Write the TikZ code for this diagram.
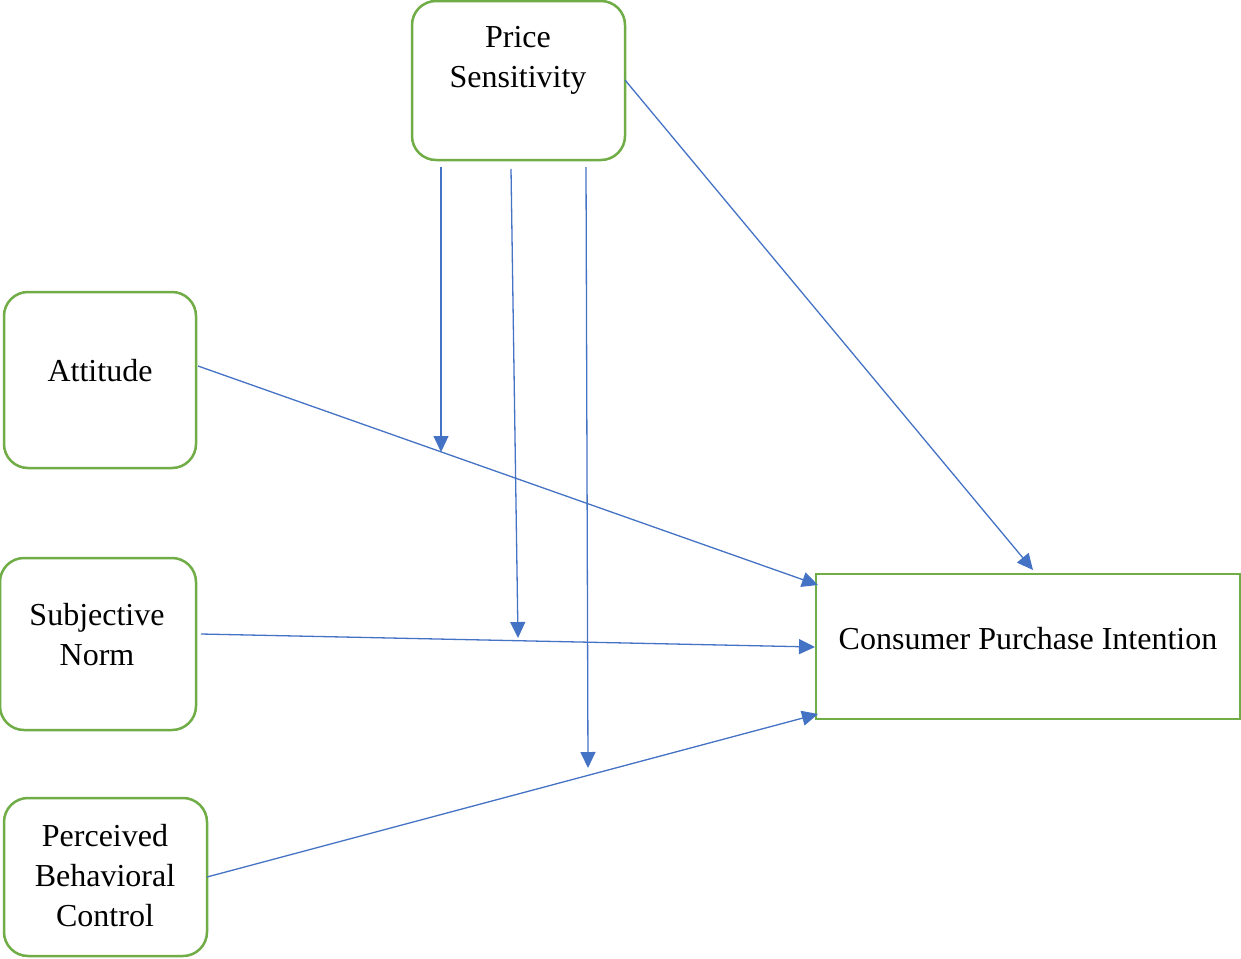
\documentclass[tikz,border=0pt]{standalone}
\usepackage{fontspec}
\setmainfont{Liberation Serif}
\usetikzlibrary{arrows.meta}
\definecolor{bordergreen}{HTML}{70AD47}
\definecolor{arrowblue}{HTML}{4472C4}
\begin{document}
\begin{tikzpicture}[x=0.5pt,y=-0.5pt,
  rbox/.style={draw=bordergreen,line width=1.25pt,rounded corners=12pt,fill=white,inner sep=0pt},
  sbox/.style={draw=bordergreen,line width=1.25pt,fill=white,inner sep=0pt},
  lbl/.style={align=center,font=\fontsize{16}{20}\selectfont,inner sep=0pt},
  conn/.style={draw=arrowblue,line width=0.65pt,-{Triangle[length=8pt,width=7.5pt]}}]
\useasboundingbox (0,0) rectangle (1241,958);
% boxes
\node[rbox,minimum width=106.5pt,minimum height=79.5pt] (ps) at (518.5,80.5) {};
\node[lbl] (pst) at (518,60) {Price\\Sensitivity};
\node[rbox,minimum width=96pt,minimum height=88pt] (att) at (100,380) {};
\node[lbl] (attt) at (100,371) {Attitude};
\node[rbox,minimum width=98pt,minimum height=86pt] (sn) at (98,644) {};
\node[lbl] (snt) at (97,635) {Subjective\\Norm};
\node[rbox,minimum width=101.5pt,minimum height=79pt] (pbc) at (105.5,877) {};
\node[lbl] (pbct) at (105,876) {Perceived\\Behavioral\\Control};
\node[sbox,minimum width=212pt,minimum height=72.5pt] (cpi) at (1028,646.5) {};
\node[lbl] (cpit) at (1028,639) {Consumer Purchase Intention};
% anchor coordinates
\coordinate (psr) at (625,80);
\coordinate (cpitop) at (1033,570);
\coordinate (attr) at (198,366);
\coordinate (cpia) at (818,585);
\coordinate (snr) at (201,634);
\coordinate (cpib) at (815,647);
\coordinate (pbcr) at (207,877);
\coordinate (cpic) at (818,714);
\coordinate (d1s) at (441,167);
\coordinate (d1e) at (441,452);
\coordinate (d2s) at (511,169);
\coordinate (d2e) at (518,638);
\coordinate (d3s) at (586,167);
\coordinate (d3e) at (588,768);
% connectors
\draw[conn] (psr) -- (cpitop);
\draw[conn] (attr) -- (cpia);
\draw[conn] (snr) -- (cpib);
\draw[conn] (pbcr) -- (cpic);
\draw[conn] (d1s) -- (d1e);
\draw[conn] (d2s) -- (d2e);
\draw[conn] (d3s) -- (d3e);
\end{tikzpicture}
\end{document}
